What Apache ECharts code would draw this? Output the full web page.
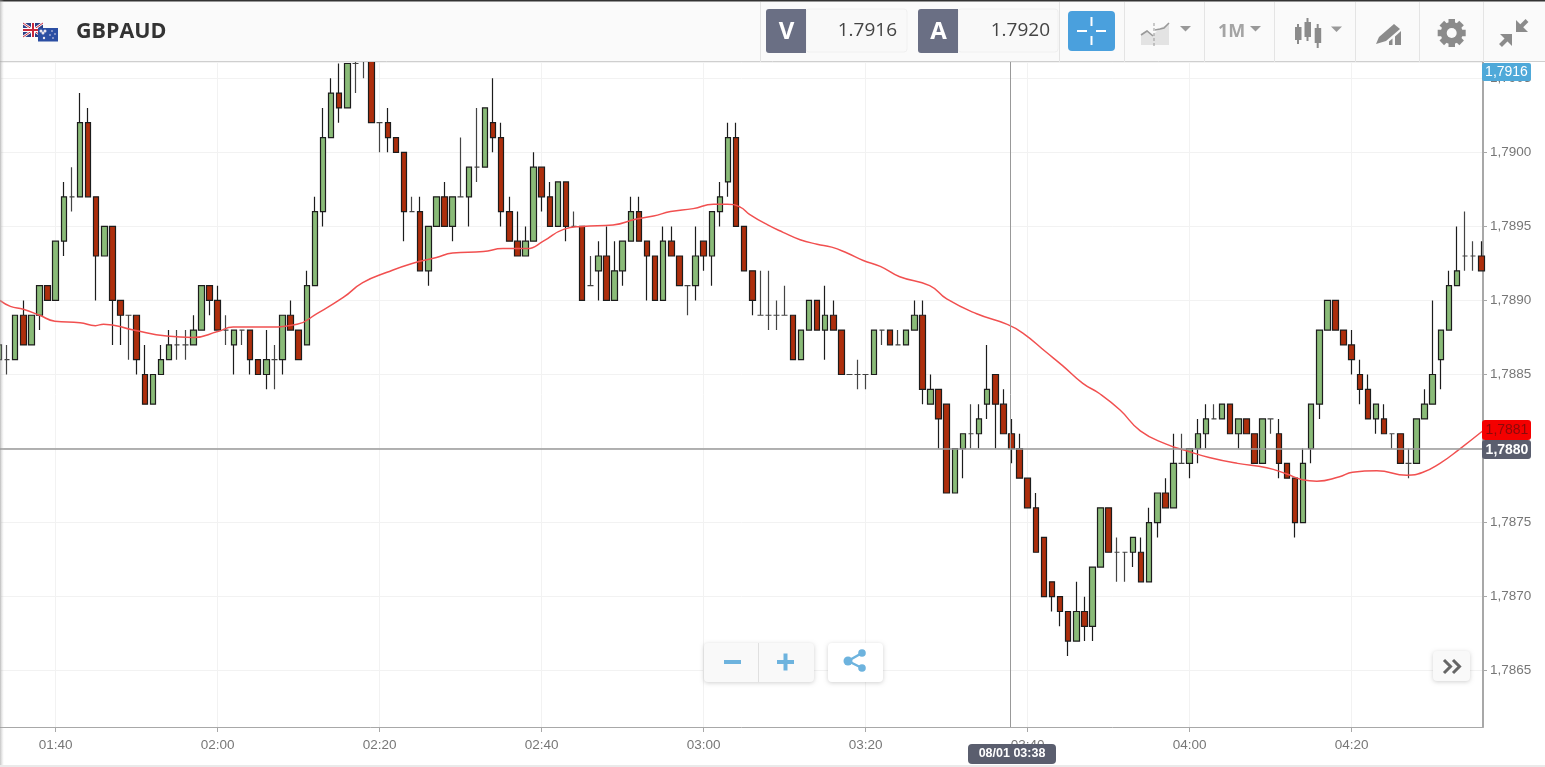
<!DOCTYPE html>
<html><head><meta charset="utf-8">
<style>html,body{margin:0;padding:0;background:#fff}#c{width:1545px;height:767px}</style>
<script src="https://cdn.jsdelivr.net/npm/echarts@6/dist/echarts.min.js"></script>
</head><body><div id="c"></div>
<script>
// minute of day of the first candle (01:33)
const firstMinute = 93;
const opens = [
1.7886,1.7886,1.7886,1.7889,1.7887,1.7889,1.7891,1.7890,1.7894,1.7897,1.7897,1.7902,1.7897,1.7893,1.7895,1.7890,1.7889,1.7889,1.7885,1.7883,1.7885,1.7886,1.7887,1.7887,1.7887,1.7888,1.7891,
1.7890,1.7888,1.7887,1.7888,1.7888,1.7886,1.7885,1.7886,1.7886,1.7889,1.7888,1.7887,1.7891,1.7896,1.7901,1.7904,1.7903,1.7906,1.7907,1.7907,
1.7902,1.7902,1.7901,1.7900,1.7896,1.7896,1.7892,1.7895,1.7897,1.7895,1.7897,1.7897,1.7899,1.7899,1.7902,1.7901,1.7896,1.7894,1.7893,1.7894,
1.7899,1.7897,1.7895,1.7898,1.7895,1.7895,1.7891,1.7892,1.7893,1.7890,1.7892,1.7894,1.7896,1.7894,1.7893,1.7890,1.7894,1.7893,1.7891,1.7891,
1.7894,1.7893,1.7896,1.7898,1.7901,1.7895,1.7892,1.7889,1.7889,1.7889,1.7889,1.7889,1.7886,1.7888,1.7890,1.7888,1.7889,1.7888,1.7885,1.7885,
1.7885,1.7885,1.7888,1.7888,1.7887,1.7887,1.7888,1.7889,1.7883,1.7884,1.7883,1.7877,1.7880,1.7881,1.7881,1.7883,1.7885,1.7883,1.7881,1.7880,
1.7878,1.7876,1.7874,1.7871,1.7870,1.7869,1.7867,1.7869,1.7868,1.7872,1.7876,1.7873,1.7873,1.7873,1.7873,1.7871,1.7875,1.7877,1.7876,1.7879,
1.7879,1.7880,1.7881,1.7882,1.7882,1.7883,1.7881,1.7882,1.7881,1.7879,1.7882,1.7881,1.7879,1.7878,1.7875,1.7880,1.7883,1.7888,1.7890,1.7888,
1.7887,1.7885,1.7884,1.7882,1.7882,1.7881,1.7881,1.7879,1.7879,1.7882,1.7883,1.7886,1.7888,1.7891,1.7893,1.7893,1.7893];
const closes = [
1.7887,1.7886,1.7889,1.7887,1.7889,1.7891,1.7890,1.7894,1.7897,1.7897,1.7902,1.7897,1.7893,1.7895,1.7890,1.7889,1.7889,1.7886,1.7883,1.7885,1.7886,1.7887,1.7887,1.7887,1.7888,1.7891,1.7890,
1.7888,1.7888,1.7888,1.7888,1.7886,1.7885,1.7886,1.7886,1.7889,1.7888,1.7886,1.7891,1.7896,1.7901,1.7904,1.7903,1.7906,1.7906,1.7907,1.7902,
1.7902,1.7901,1.7900,1.7896,1.7896,1.7892,1.7895,1.7897,1.7895,1.7897,1.7897,1.7899,1.7899,1.7903,1.7901,1.7896,1.7894,1.7893,1.7894,1.7899,
1.7897,1.7895,1.7898,1.7895,1.7895,1.7890,1.7891,1.7893,1.7890,1.7892,1.7894,1.7896,1.7894,1.7893,1.7890,1.7894,1.7893,1.7891,1.7891,1.7893,
1.7893,1.7896,1.7897,1.7901,1.7895,1.7892,1.7890,1.7889,1.7889,1.7889,1.7889,1.7886,1.7888,1.7890,1.7888,1.7889,1.7888,1.7885,1.7885,1.7885,
1.7885,1.7888,1.7888,1.7887,1.7887,1.7888,1.7889,1.7884,1.7884,1.7882,1.7877,1.7880,1.7881,1.7881,1.7882,1.7884,1.7883,1.7881,1.7880,1.7878,
1.7876,1.7873,1.7870,1.7870,1.7869,1.7867,1.7869,1.7868,1.7872,1.7876,1.7873,1.7873,1.7873,1.7874,1.7871,1.7875,1.7877,1.7876,1.7879,1.7879,
1.7880,1.7881,1.7882,1.7882,1.7883,1.7881,1.7882,1.7881,1.7879,1.7882,1.7882,1.7879,1.7878,1.7875,1.7879,1.7883,1.7888,1.7890,1.7888,1.7887,
1.7886,1.7884,1.7882,1.7883,1.7881,1.7881,1.7879,1.7879,1.7882,1.7883,1.7885,1.7888,1.7891,1.7892,1.7893,1.7893,1.7892];
const lows = [
1.7886,1.7885,1.7886,1.7887,1.7887,1.7888,1.7890,1.7890,1.7893,1.7896,1.7897,1.7897,1.7890,1.7893,1.7887,1.7887,1.7886,1.7885,1.7883,1.7883,1.7885,1.7886,1.7886,1.7886,1.7887,1.7888,1.7889,
1.7888,1.7887,1.7885,1.7887,1.7885,1.7885,1.7884,1.7884,1.7885,1.7888,1.7886,1.7887,1.7891,1.7895,1.7901,1.7902,1.7903,1.7904,1.7905,1.7902,
1.7900,1.7900,1.7900,1.7894,1.7896,1.7892,1.7891,1.7895,1.7895,1.7894,1.7897,1.7895,1.7898,1.7899,1.7900,1.7895,1.7894,1.7893,1.7893,1.7894,
1.7896,1.7895,1.7895,1.7894,1.7895,1.7890,1.7891,1.7890,1.7890,1.7890,1.7891,1.7894,1.7894,1.7890,1.7890,1.7890,1.7893,1.7891,1.7889,1.7890,
1.7892,1.7891,1.7895,1.7897,1.7895,1.7892,1.7889,1.7889,1.7888,1.7888,1.7889,1.7886,1.7886,1.7888,1.7888,1.7886,1.7888,1.7885,1.7885,1.7884,
1.7884,1.7885,1.7887,1.7887,1.7887,1.7887,1.7888,1.7883,1.7883,1.7880,1.7877,1.7877,1.7878,1.7880,1.7880,1.7882,1.7880,1.7881,1.7879,1.7878,
1.7876,1.7873,1.7870,1.7869,1.7868,1.7866,1.7867,1.7867,1.7867,1.7872,1.7873,1.7871,1.7871,1.7872,1.7871,1.7871,1.7874,1.7876,1.7876,1.7879,
1.7878,1.7879,1.7880,1.7882,1.7882,1.7881,1.7880,1.7881,1.7879,1.7879,1.7881,1.7878,1.7878,1.7874,1.7875,1.7879,1.7882,1.7888,1.7888,1.7887,
1.7885,1.7883,1.7882,1.7881,1.7881,1.7880,1.7879,1.7878,1.7879,1.7882,1.7883,1.7884,1.7888,1.7891,1.7892,1.7892,1.7892];
const highs = [
1.7887,1.7887,1.7889,1.7890,1.7889,1.7891,1.7891,1.7894,1.7898,1.7899,1.7904,1.7903,1.7897,1.7895,1.7895,1.7890,1.7889,1.7889,1.7887,1.7885,1.7887,1.7888,1.7888,1.7888,1.7889,1.7891,1.7891,
1.7891,1.7889,1.7888,1.7888,1.7888,1.7886,1.7888,1.7887,1.7889,1.7890,1.7888,1.7892,1.7897,1.7903,1.7905,1.7906,1.7906,1.7907,1.7907,1.7907,
1.7902,1.7903,1.7901,1.7900,1.7897,1.7897,1.7895,1.7897,1.7898,1.7897,1.7901,1.7899,1.7903,1.7903,1.7905,1.7902,1.7897,1.7896,1.7895,1.7900,
1.7899,1.7898,1.7898,1.7898,1.7896,1.7895,1.7893,1.7894,1.7895,1.7894,1.7894,1.7897,1.7897,1.7894,1.7893,1.7895,1.7895,1.7893,1.7891,1.7895,
1.7894,1.7896,1.7898,1.7902,1.7902,1.7895,1.7892,1.7892,1.7892,1.7890,1.7891,1.7889,1.7888,1.7890,1.7890,1.7891,1.7890,1.7888,1.7885,1.7886,
1.7885,1.7888,1.7888,1.7888,1.7888,1.7888,1.7890,1.7890,1.7885,1.7884,1.7883,1.7880,1.7881,1.7883,1.7883,1.7887,1.7885,1.7884,1.7882,1.7881,
1.7878,1.7877,1.7874,1.7871,1.7870,1.7869,1.7871,1.7870,1.7872,1.7876,1.7876,1.7874,1.7873,1.7874,1.7874,1.7876,1.7877,1.7878,1.7881,1.7881,
1.7880,1.7882,1.7883,1.7883,1.7883,1.7883,1.7882,1.7882,1.7881,1.7882,1.7882,1.7882,1.7879,1.7878,1.7880,1.7883,1.7888,1.7890,1.7890,1.7888,
1.7888,1.7886,1.7885,1.7883,1.7883,1.7881,1.7881,1.7880,1.7882,1.7884,1.7890,1.7888,1.7892,1.7895,1.7896,1.7894,1.7894];
// moving-average line: minute of day / price
const maMinutes = [93.1,94.4,96,98,99.9,103,104.9,105.9,109.6,113.7,117,120,121.9,125.6,129.8,132.2,135.5,137.9,140.9,144,147,149,152.8,155.2,158.2,160.2,162.7,165,168.8,171.7,173.8,175.9,178.7,181.2,182.9,184.5,185.7,187.9,189.8,191.9,194,195.8,197.7,199.7,201.8,204.2,207.9,210,213.7,217.4,219.4,222.3,224.3,226.8,228.9,231.4,233.9,237.1,239.9,242.4,245.9,249.5,251.9,253.9,255.7,258.5,260.1,263.1,266.8,268.8,270.9,273.4,276.2];
const maValues = [1.78900,1.78896,1.78894,1.78890,1.78886,1.78885,1.78883,1.78884,1.78880,1.78876,1.78875,1.78879,1.78882,1.78882,1.78884,1.78891,1.78902,1.78912,1.78919,1.78925,1.78929,1.78932,1.78933,1.78935,1.78935,1.78940,1.78948,1.78950,1.78951,1.78955,1.78957,1.78960,1.78962,1.78965,1.78965,1.78963,1.78958,1.78951,1.78946,1.78941,1.78938,1.78936,1.78932,1.78927,1.78923,1.78916,1.78910,1.78901,1.78891,1.78884,1.78878,1.78865,1.78856,1.78844,1.78837,1.78826,1.78812,1.78803,1.78798,1.78794,1.78790,1.78787,1.78783,1.78779,1.78778,1.78781,1.78784,1.78785,1.78782,1.78784,1.78790,1.78800,1.78812];
const priceTicks = {min:1.78612, max:1.79061, step:0.0005};
const timeTicks = {min:93.12, max:276.21, step:20};
const crossPrice = 1.7880, crossMinute = 217.9;
const instrument = 'GBPAUD', bid = '1.7916', ask = '1.7920', period = '1M';
const lastBid = '1,7916', lastMa = '1,7881', crossPriceLabel = '1,7880', crossTimeLabel = '08/01 03:38';

const hhmm = m => String(Math.floor(m/60)).padStart(2,'0')+':'+String(Math.round(m%60)).padStart(2,'0');
const candles = opens.map((o,i)=>[firstMinute+i,o,closes[i],lows[i],highs[i]]);

const OS='"Open Sans",sans-serif', LS='"Liberation Sans",Arial,sans-serif';
const G=[];
const rect=(x,y,w,h,fill,o={})=>G.push(Object.assign({type:'rect',shape:{x,y,width:w,height:h,r:o.r||0},style:Object.assign({fill},o.style||{})},o.rot?{rotation:o.rot,originX:o.ox,originY:o.oy}:{}));
const txt=(x,y,t,font,fill,align='left',weight='normal')=>G.push({type:'text',x,y,style:{text:t,fill,font:weight+' '+font,textAlign:align,textVerticalAlign:'middle'}});
const line=(x1,y1,x2,y2,stroke,w=1)=>G.push({type:'line',shape:{x1,y1,x2,y2},style:{stroke,lineWidth:w}});
const poly=(pts,fill)=>G.push({type:'polygon',shape:{points:pts},style:{fill}});
const pline=(pts,stroke,w)=>G.push({type:'polyline',shape:{points:pts},style:{stroke,lineWidth:w,fill:'none'}});
const circ=(cx,cy,r,fill)=>G.push({type:'circle',shape:{cx,cy,r},style:{fill}});

// header
rect(0,0,1545,61,'#fafafa'); rect(0,0,1545,1.5,'#333'); line(0,61.5,1545,61.5,'#cfcfcf',1);
[760,1059,1124,1204,1274,1355,1419,1483].forEach(x=>line(x+.5,2,x+.5,62,'#e4e4e4',1));
// flags
rect(23,23,20,14,'#2c3f86');
line(23,23,43,37,'#fff',2.6); line(43,23,23,37,'#fff',2.6);
line(23,23,43,37,'#c8283c',1); line(43,23,23,37,'#c8283c',1);
rect(31,23,4,14,'#fff'); rect(23,28,20,4,'#fff'); rect(32,23,2,14,'#c8283c'); rect(23,29,20,2,'#c8283c');
rect(38,28,20,13.5,'#2b4ea3');
[[41,31,1.5],[45,31,1.5],[43,33,1.5],[44,38,1.2],[52,31,.8],[55,34,.8],[50,35,.8],[53,38,.8]].forEach(p=>circ(p[0],p[1],p[2],'#e8e4ee'));
txt(76,32,instrument,'21.5px '+OS,'#333','left','bold');
// bid / ask
rect(806,9,101,43,'#f9f9f9',{r:3,style:{stroke:'#f0f0f0',lineWidth:1}});
rect(958,9,100,43,'#f9f9f9',{r:3,style:{stroke:'#f0f0f0',lineWidth:1}});
rect(766,9,40,44,'#6a6f84',{r:[3,0,0,3]}); rect(918,9,40,44,'#6a6f84',{r:[3,0,0,3]});
txt(786.5,32,'V','24px '+OS,'#fff','center','bold'); txt(938.5,32,'A','24px '+OS,'#fff','center','bold');
txt(897,31,bid,'19px '+OS,'#444','right'); txt(1050,31,ask,'19px '+OS,'#444','right');
rect(1068,11,47,40,'#4aa0dd',{r:4});
[[1077,31,1087,31],[1096,31,1106,31],[1091.5,17,1091.5,26],[1091.5,36,1091.5,45]].forEach(l=>line(l[0],l[1],l[2],l[3],'#fff',2));
// line-chart icon
poly([[1141,45],[1141,34],[1147,30],[1153,35],[1160,28],[1169,24],[1169,45]],'#e3e3e3');
pline([[1141,35],[1147,31],[1153,36]],'#9a9a9a',1.6); pline([[1155,30],[1160,29],[1164,28],[1169,23]],'#9a9a9a',1.6);
G.push({type:'line',shape:{x1:1154,y1:23,x2:1154,y2:46},style:{stroke:'#999',lineWidth:1,lineDash:[3,2]}});
const caret=(x,y)=>poly([[x,y],[x+11,y],[x+5.5,y+5.5]],'#999');
caret(1180,26); txt(1218,32,period,'18px '+OS,'#a4a4a4','left','bold'); caret(1250,26);
// candle icon
[[1298,24,44,27,40],[1307.5,18,41,22,37],[1317.7,24,48,28,43]].forEach(c=>{rect(c[0]-1,c[1],2,c[2]-c[1],'#8b8b8b');rect(c[0]-3,c[3],6.5,c[4]-c[3],'#8b8b8b');});
caret(1331,26.5);
// analysis icon
poly([[1376,44],[1379,37],[1394,24],[1400,29],[1386,41]],'#8b8b8b');
poly([[1389,45],[1389,41.5],[1392.5,38.5],[1392.5,45]],'#8b8b8b'); poly([[1395,45],[1395,36.5],[1401,31],[1401,45]],'#8b8b8b');
// gear
for(let a=0;a<4;a++) rect(1448.5,19,6.5,28,'#8b8b8b',{rot:a*Math.PI/4+0.001,ox:1451.7,oy:33});
G.push({type:'ring',shape:{cx:1451.7,cy:33,r:11,r0:5},style:{fill:'#8b8b8b'}}); circ(1451.7,33,5,'#fafafa');
// compress arrows
poly([[1516,20],[1516,32],[1528,32]],'#8b8b8b'); line(1520,27.5,1527,20.5,'#8b8b8b',4);
poly([[1500,34],[1512,34],[1512,46]],'#8b8b8b'); line(1507,39,1500.5,45.5,'#8b8b8b',4);
// left edge shade and bottom strip
G.push({type:'rect',shape:{x:0,y:0,width:4,height:767},style:{fill:{type:'linear',x:0,y:0,x2:1,y2:0,colorStops:[{offset:0,color:'rgba(150,150,150,.55)'},{offset:1,color:'rgba(200,200,200,0)'}]}}});
rect(0,765,1545,2,'#eaeaea');
// zoom and share buttons
const sh={shadowBlur:4,shadowColor:'rgba(0,0,0,.18)',shadowOffsetY:1};
rect(704,643,110,39,'#f9f9f9',{r:4,style:sh}); line(758.5,643,758.5,682,'#e0e0e0',1);
rect(828,643,55,39,'#fff',{r:4,style:sh});
rect(724,660,17,4,'#6db3de'); rect(777,660,17,4,'#6db3de'); rect(783.5,653.5,4,17,'#6db3de');
line(848,661,862,653,'#6db3de',2.5); line(848,661,862,668,'#6db3de',2.5);
circ(848,661,4.5,'#6db3de'); circ(862,653,3.8,'#6db3de'); circ(862,668,3.8,'#6db3de');
rect(1433,651,37,30,'#f9f9f9',{r:4,style:sh});
pline([[1444,660],[1450.5,666.5],[1444,673]],'#666',3); pline([[1453,660],[1459.5,666.5],[1453,673]],'#666',3);
// price and time badges
rect(1482,63,49,18,'#4fa9d9',{r:2}); txt(1506.5,72.5,lastBid,'14px '+LS,'#fff','center');
rect(1482,420,49,20,'#f40000',{r:3}); txt(1507,430,lastMa,'14px '+LS,'#8a0a0a','center');
rect(1482,440,49,19,'#5a5e6e',{r:3}); txt(1507,450,crossPriceLabel,'14px '+LS,'#fff','center','bold');
rect(968,744,88,20,'#5a5e6e',{r:4}); txt(1012,754,crossTimeLabel,'12.5px '+LS,'#fff','center','bold');
G.forEach(g=>{g.z=100;g.silent=true;});

const chart=echarts.init(document.getElementById('c'),null,{renderer:'canvas'});
chart.setOption({
 animation:false,backgroundColor:'#fff',
 grid:{left:0,right:62,top:62,bottom:40,containLabel:false},
 xAxis:{type:'value',min:timeTicks.min,max:timeTicks.max,minInterval:timeTicks.step,maxInterval:timeTicks.step,
  axisLine:{show:true,onZero:false,lineStyle:{color:'#a8a8a8',width:1}},
  axisTick:{show:true,length:5,lineStyle:{color:'#a8a8a8'}},
  axisLabel:{margin:11,fontFamily:'Liberation Sans',fontSize:13.5,color:'#777',showMinLabel:false,showMaxLabel:false,
   formatter:v=>Math.abs(v%timeTicks.step)<1e-6?hhmm(v):''},
  splitLine:{show:true,lineStyle:{color:'#f2f2f2',width:1}}},
 yAxis:{type:'value',position:'right',min:priceTicks.min,max:priceTicks.max,minInterval:priceTicks.step,maxInterval:priceTicks.step,scale:true,
  axisLine:{show:true,onZero:false,lineStyle:{color:'#a8a8a8',width:2}},
  axisTick:{show:true,length:4,lineStyle:{color:'#a8a8a8'}},
  axisLabel:{margin:7,fontFamily:'Liberation Sans',fontSize:13.5,color:'#777',showMinLabel:false,showMaxLabel:false,
   formatter:v=>v.toFixed(4).replace('.',',')},
  splitLine:{show:true,lineStyle:{color:'#f2f2f2',width:1}}},
 series:[
  {type:'candlestick',data:candles,encode:{x:0,y:[1,2,3,4]},barWidth:6,
   itemStyle:{color:'#8abb78',color0:'#ad2e0c',borderColor:'#1c1c1c',borderColor0:'#1c1c1c',borderColorDoji:'#444',borderWidth:1.2},z:3},
  {type:'line',data:maMinutes.map((m,i)=>[m,maValues[i]]),smooth:true,showSymbol:false,symbol:'none',
   lineStyle:{color:'#f15050',width:1.5},z:4,
   markLine:{silent:true,symbol:'none',animation:false,precision:4,label:{show:false},
    lineStyle:{color:'#999',type:'solid',width:1},
    data:[{yAxis:crossPrice,lineStyle:{width:1.5}},{xAxis:crossMinute}]}}
 ],
 graphic:{elements:G}
});
</script></body></html>
